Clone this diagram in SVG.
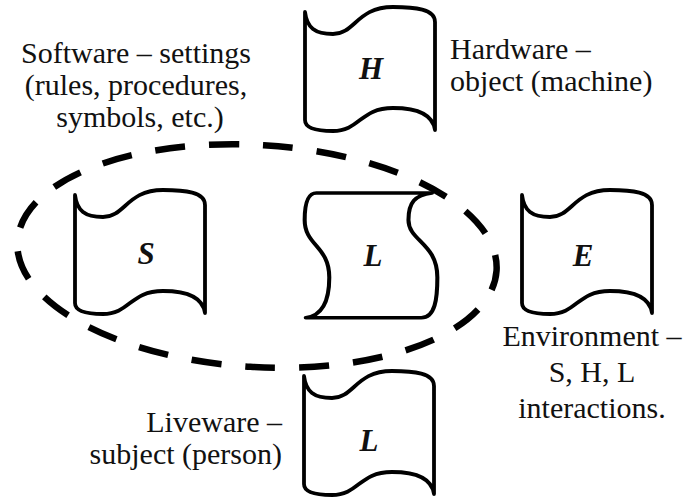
<svg xmlns="http://www.w3.org/2000/svg" width="686" height="499" viewBox="0 0 686 499">
<style>
.lbl{font-family:'Liberation Serif',serif;font-size:30px;fill:#111}
.ltr{font-family:'Liberation Serif',serif;font-size:31px;font-weight:bold;font-style:italic;fill:#111;text-anchor:middle}
.flag{fill:#fff;stroke:#000;stroke-width:3.8;stroke-linejoin:round}
</style>
<defs>
<path id="flag" d="M0,0 C2,16 10,22 28,22 C50,22 52,-5 88,-5 C110,-5 130,-3 130,10 L130,118 C128,104 115,96 88,96 C55,96 55,119 28,119 C10,119 0,116 0,108 Z"/>
</defs>
<rect width="686" height="499" fill="#fff"/>
<g id="connectors">
<ellipse cx="257" cy="256" rx="240" ry="111" transform="rotate(3.5 257 256)" fill="none" stroke="#000" stroke-width="6.5" stroke-dasharray="30 24" stroke-dashoffset="10"/>
</g>
<g id="node-H">
<use href="#flag" class="flag" transform="translate(305,12)"/>
<text class="ltr" font-family="Liberation Serif, serif" x="371" y="79">H</text>
</g>
<g id="node-S">
<use href="#flag" class="flag" transform="translate(75,195)"/>
<text class="ltr" font-family="Liberation Serif, serif" x="146" y="264">S</text>
</g>
<g id="node-L-center">
<use href="#flag" class="flag" vector-effect="non-scaling-stroke" transform="translate(432,193) rotate(90) scale(0.96,1.07)"/>
<text class="ltr" font-family="Liberation Serif, serif" x="373" y="266">L</text>
</g>
<g id="node-E">
<use href="#flag" class="flag" transform="translate(522,195)"/>
<text class="ltr" font-family="Liberation Serif, serif" x="583" y="266">E</text>
</g>
<g id="node-L-bottom">
<use href="#flag" class="flag" transform="translate(304,376)"/>
<text class="ltr" font-family="Liberation Serif, serif" x="369" y="451">L</text>
</g>
<g id="label-software">
<text class="lbl" font-family="Liberation Serif, serif" text-anchor="middle"><tspan x="136" y="63">Software – settings</tspan><tspan x="136" y="95">(rules, procedures,</tspan><tspan x="140" y="127">symbols, etc.)</tspan></text>
</g>
<g id="label-hardware">
<text class="lbl" font-family="Liberation Serif, serif"><tspan x="450" y="59">Hardware –</tspan><tspan x="450" y="91">object (machine)</tspan></text>
</g>
<g id="label-environment">
<text class="lbl" font-family="Liberation Serif, serif" text-anchor="middle"><tspan x="592" y="346">Environment –</tspan><tspan x="592" y="382">S, H, L</tspan><tspan x="592" y="418">interactions.</tspan></text>
</g>
<g id="label-liveware">
<text class="lbl" font-family="Liberation Serif, serif" text-anchor="end"><tspan x="282" y="432">Liveware –</tspan><tspan x="282" y="464">subject (person)</tspan></text>
</g>
</svg>
